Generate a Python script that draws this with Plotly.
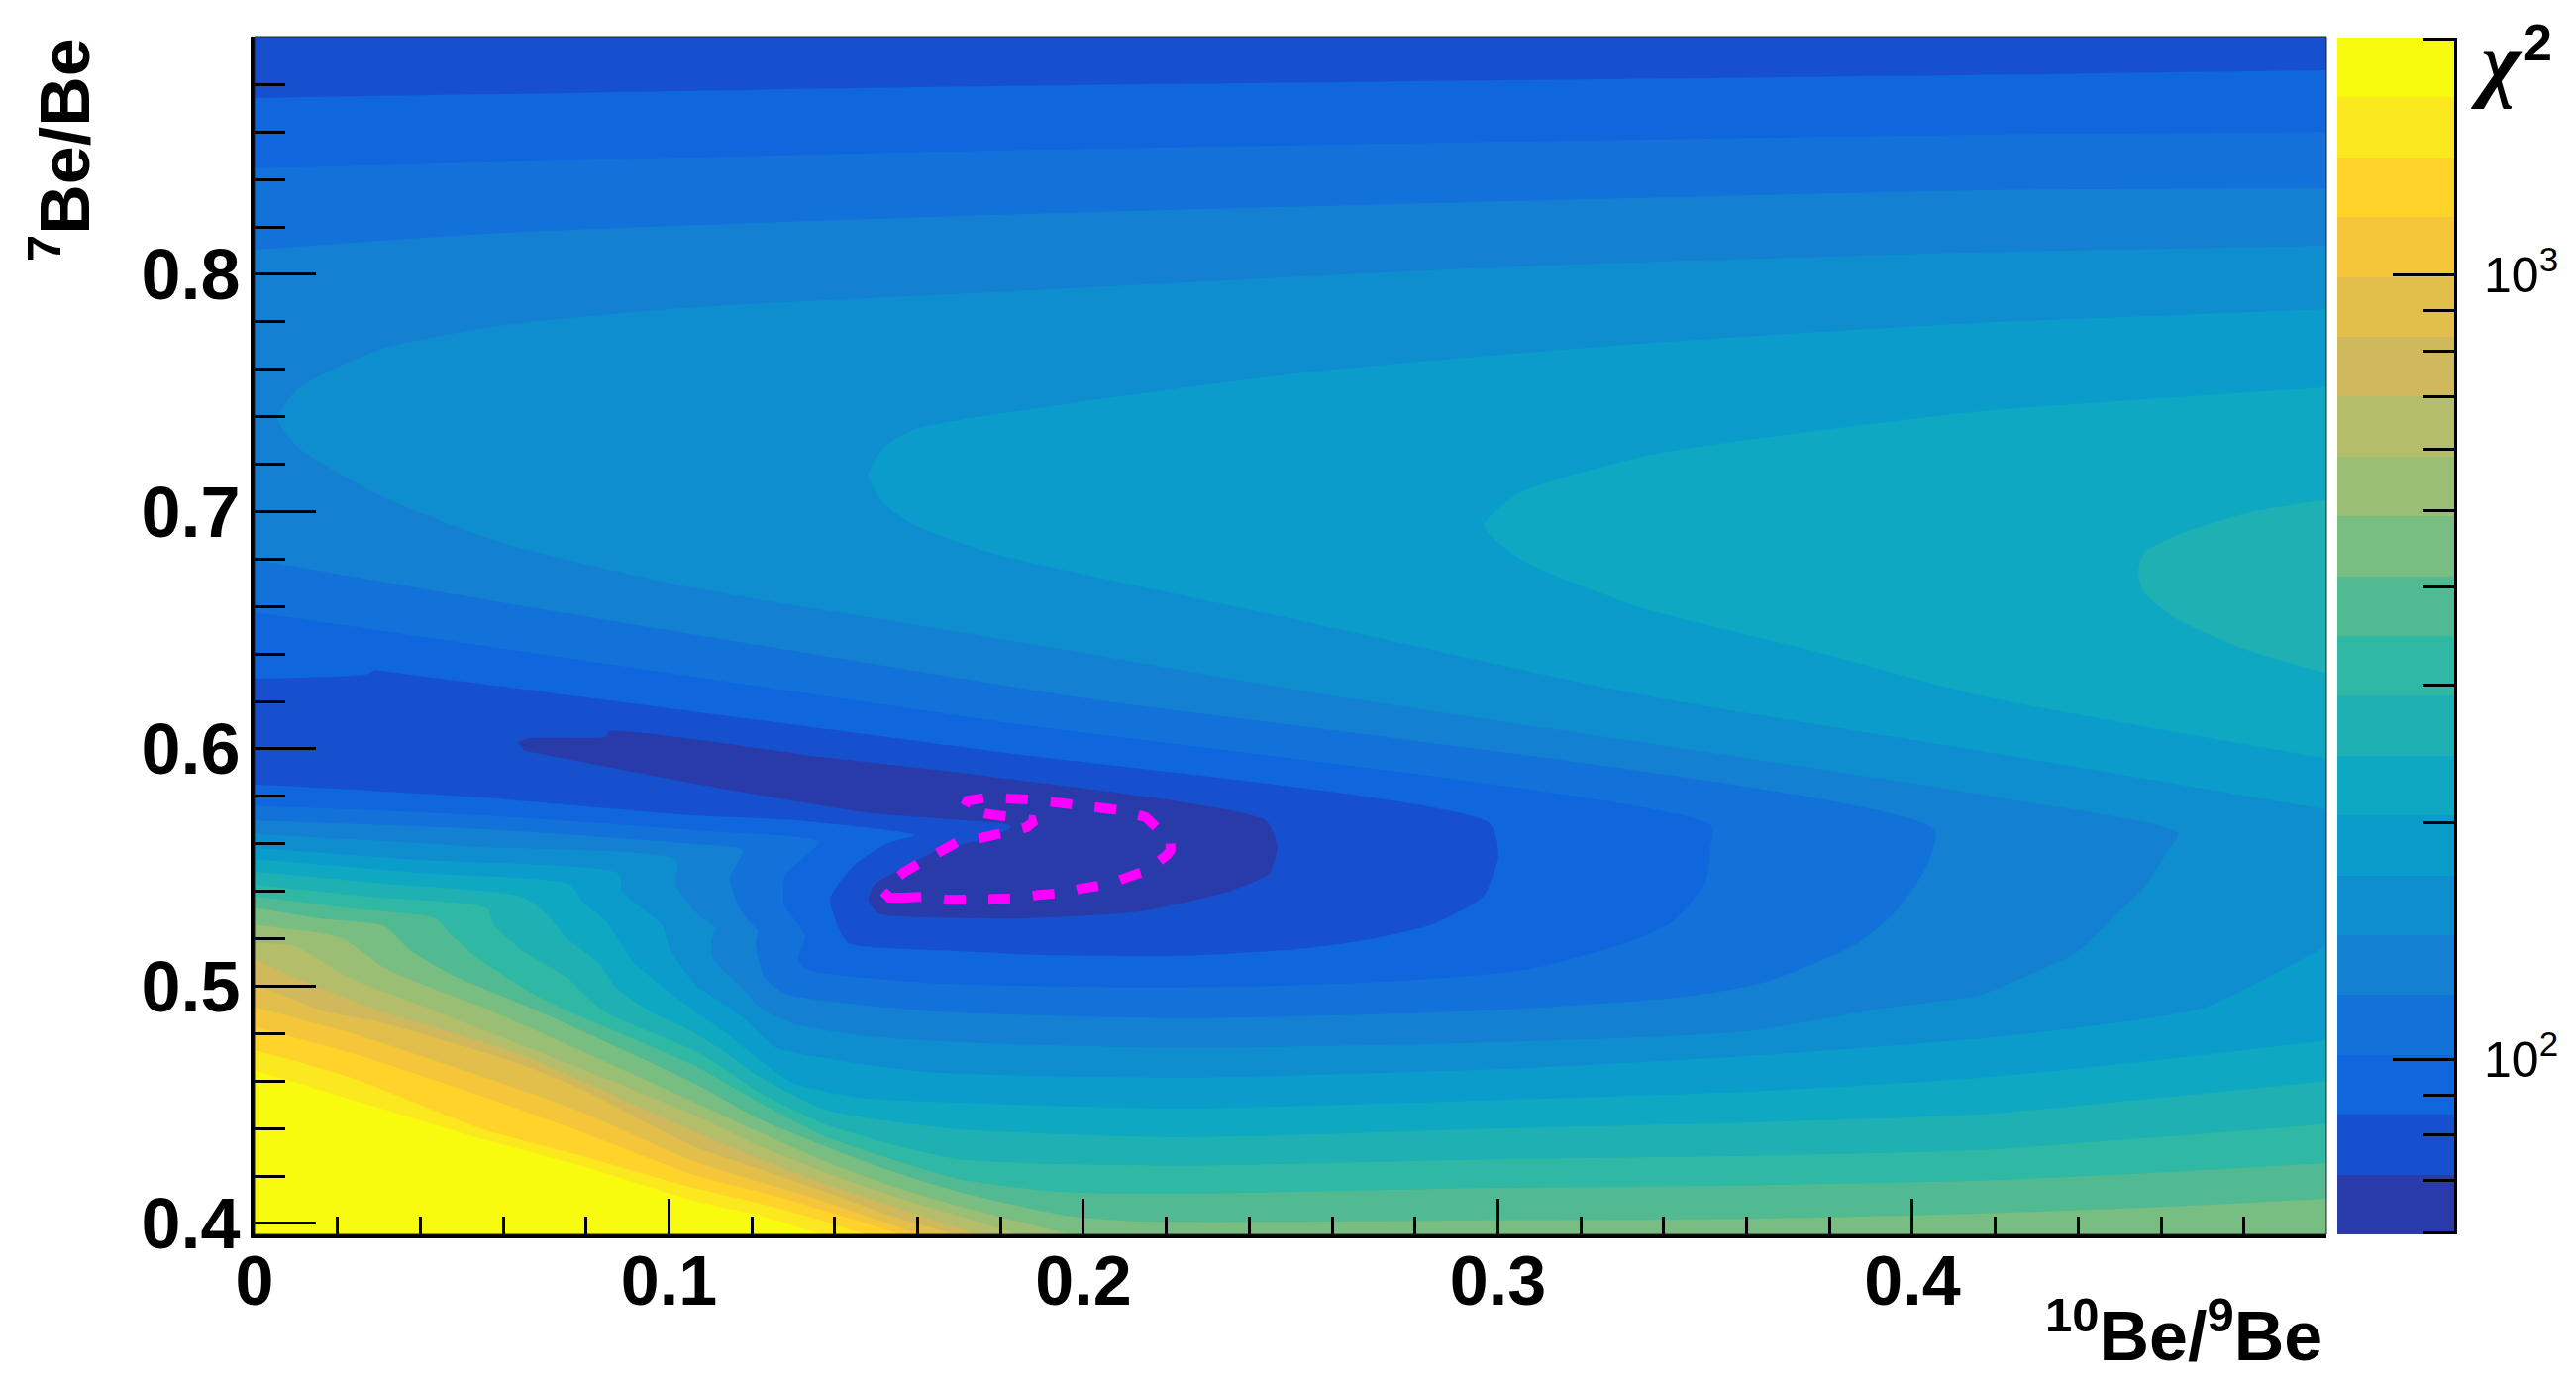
import plotly.graph_objects as go

# ---- chi2 scale -------------------------------------------------------
chi2_levels = [59.8, 71.3, 85.0, 101.3, 120.8, 144.0, 171.6, 204.6, 243.9, 290.7, 346.5,
               413.0, 492.4, 587.0, 699.7, 834.0, 994.3, 1185.0, 1413.0, 1684.0, 2007.0]
band_colors = ["#283BA8", "#1650CF", "#1066DD", "#1272D9", "#1380D2", "#0E8ECE", "#0A9DCC",
               "#0FA8C2", "#1EB0B2", "#2FB8A4", "#52BA92", "#78BD81", "#9ABE74", "#B4BD6A",
               "#D0B95C", "#E2BF4B", "#F5C63A", "#FFD32A", "#FCE81E", "#F9FB0E"]
band_index = list(range(20))

# ---- axis labels ------------------------------------------------------
x_tick_vals = [0, 0.1, 0.2, 0.3, 0.4]
x_tick_text = ["0", "0.1", "0.2", "0.3", "0.4"]
y_tick_vals = [0.4, 0.5, 0.6, 0.7, 0.8]
y_tick_text = ["0.4", "0.5", "0.6", "0.7", "0.8"]
chi2_major = [100, 1000]
chi2_major_text = ["10<sup>2</sup>", "10<sup>3</sup>"]
chi2_minor = [60, 70, 80, 90, 200, 300, 400, 500, 600, 700, 800, 900, 2000]

# ---- regions chi2 < level (10Be/9Be, 7Be/Be) ----
# boundaries run on a little past the frame so they meet it without a bend
below01_x = [.0635,.0658,.0849,.0855,.1367,.1775,.244,.2468,.2447,.2354,.2134,.1855,.1615,.1505,.1481,.1496,.1568,.1656,.1752,.1823,.1823,.1472,.1062,.065]
below01_y = [.6027,.6044,.6052,.6075,.5966,.5883,.5697,.5587,.5474,.5402,.5315,.5286,.529,.5307,.5365,.5428,.5503,.5578,.5616,.5666,.5678,.5733,.5854,.5993]

below02_x = [-.03,0,.027,.0292,.0305,.0727,.1775,.298,.3001,.2965,.284,.2691,.2538,.223,.193,.1697,.1433,.141,.1389,.1448,.1525,.1589,.1297,.1059,.0552,0,-.03]
below02_y = [.6296,.6296,.6315,.6334,.633,.6234,.5992,.5687,.555,.538,.526,.5198,.516,.5127,.513,.5148,.5182,.5244,.537,.5512,.56,.5637,.57,.572,.5795,.5851,.5865]
below02_top_x = [-.03,0,.1775,.4165,.5,.53,.53,-.03]
below02_top_y = [.8735,.8743,.8793,.884,.886,.8865,.93,.93]

below03_x = [-.03,0,.1775,.3513,.3513,.35,.342,.33,.307,.2767,.2385,.208,.1615,.1329,.1312,.1329,.1278,.1281,.1305,.136,.1059,.0552,0,-.03]
below03_y = [.665,.6576,.6121,.5678,.5587,.5437,.527,.5177,.507,.5023,.4998,.4995,.5015,.5073,.5119,.5211,.5344,.547,.5512,.5608,.5658,.572,.5761,.5776]
below03_top_x = [-.03,0,.1775,.4165,.5,.53,.53,-.03]
below03_top_y = [.8432,.8447,.8522,.8589,.860,.8605,.93,.93]

below04_x = [-.03,0,.0605,.1928,.4053,.4031,.3955,.3864,.365,.3453,.2994,.223,.1615,.1281,.1231,.1209,.1214,.1178,.1147,.1178,.1059,.0552,0,-.03]
below04_y = [.688,.6797,.6615,.6234,.566,.5495,.5307,.5177,.502,.4956,.49,.4865,.4898,.4969,.5036,.5177,.5232,.5303,.5453,.5574,.5599,.5662,.5698,.5712]
below04_top_x = [-.03,0,.06,.1775,.4165,.5,.53,.53,-.03]
below04_top_y = [.807,.8104,.8175,.825,.8355,.8363,.8365,.93,.93]

below05_x = [-.03,.53,.53,.5,.4165,.3,.1775,.1063,.0605,.03,.0103,.0056,.0103,.0301,.0605,.1063,.1775,.2569,.4165,.464,.4614,.456,.4485,.4394,.4284,.4165,.391,.36,.2994,.223,.1697,.1458,.1297,.1219,.1183,.1106,.1102,.1113,.107,.1016,.1018,.0552,0,-.03]
below05_y = [.93,.93,.8135,.8121,.8094,.803,.7925,.7862,.7787,.7683,.7516,.739,.7273,.7069,.6864,.6677,.6472,.6234,.5808,.5645,.5566,.542,.529,.514,.505,.4964,.4902,.481,.4764,.474,.4764,.4793,.4843,.491,.4981,.5119,.519,.5244,.5303,.5428,.5532,.5587,.5642,.567]

below06_x = [-.03,.53,.53,.5,.4165,.335,.2557,.1923,.1596,.152,.1481,.152,.1596,.1775,.25,.3329,.4165,.5,.53,.56,.53,.5,.4705,.44,.4165,.36,.2994,.223,.1615,.1376,.1257,.1178,.1082,.107,.1004,.0982,.0887,.0879,.0394,0,-.03]
below06_y = [.93,.93,.788,.7854,.7796,.7709,.7591,.7445,.7349,.7273,.7153,.7031,.694,.6827,.655,.6234,.5992,.5745,.566,.555,.545,.517,.491,.4825,.478,.4706,.465,.4614,.4639,.4697,.4743,.4868,.4981,.4994,.5148,.5261,.5399,.5474,.5532,.5582,.561]

below07_x = [-.03,.53,.53,.5,.4165,.3747,.335,.3053,.2966,.3053,.335,.3747,.4165,.5,.53,.56,.53,.5,.46,.4165,.36,.2994,.223,.1697,.1458,.1297,.1219,.1138,.1059,.0975,.0911,.0848,.0791,.076,.0394,0,-.03]
below07_y = [.93,.93,.7555,.7524,.7423,.7336,.7232,.7079,.694,.6801,.6594,.642,.6225,.596,.587,.53,.4825,.477,.469,.4614,.4555,.452,.4484,.4509,.453,.4593,.4689,.4802,.4898,.501,.5106,.5273,.5357,.5428,.5478,.5535,.557]

below08_x = [-.03,.53,.53,.5,.4805,.464,.4559,.4545,.4559,.464,.4805,.5,.53,.56,.53,.5,.46,.4165,.36,.2994,.223,.1697,.1536,.1376,.1219,.1138,.1059,.0951,.0872,.0832,.0753,.0705,.0645,.0313,0,-.03]
below08_y = [.93,.93,.71,.705,.6994,.6902,.6827,.6743,.666,.6547,.6418,.632,.622,.53,.4655,.46,.453,.446,.4425,.44,.4363,.4397,.443,.448,.4618,.4718,.4806,.4898,.4994,.5094,.5203,.5303,.5378,.5432,.5482,.551]

below09_x = [-.03,.53,.53,.5,.46,.4165,.36,.2994,.223,.1935,.1697,.1536,.1376,.1219,.1138,.1059,.0839,.0753,.0648,.0576,.0562,.0275,0,-.03]
below09_y = [.93,.93,.4475,.442,.4365,.431,.4285,.427,.4243,.425,.4271,.4334,.4418,.4551,.4647,.4731,.4898,.5036,.5148,.5261,.5328,.5378,.5427,.546]

below10_x = [-.03,.53,.53,.5,.46,.4165,.36,.2994,.223,.1935,.1697,.1536,.1376,.1219,.1059,.0753,.0671,.0538,.0466,.0437,.0234,0,-.03]
below10_y = [.93,.93,.4285,.4255,.4215,.418,.416,.415,.4125,.4134,.4188,.4271,.4367,.4509,.4668,.4898,.4969,.5119,.5232,.5286,.5328,.5378,.541]

below11_x = [-.03,.53,.53,.5,.46,.4165,.36,.3,.2134,.1959,.1697,.1536,.1376,.1219,.1059,.0681,.049,.0378,.0313,.0155,0,-.03]
below11_y = [.93,.93,.4135,.4104,.407,.4042,.402,.4013,.4008,.4033,.4134,.4221,.4326,.4438,.4593,.4898,.5036,.5148,.5253,.5286,.5329,.536]

below12_x = [-.03,.53,.53,.253,.1959,.1697,.1536,.1376,.1219,.1059,.0569,.0425,.0313,.021,0,-.03]
below12_y = [.93,.93,.37,.37,.3958,.4075,.4159,.4263,.4384,.4514,.4898,.4994,.5077,.5203,.526,.532]

below13_x = [-.03,.53,.53,.24,.1823,.1697,.1536,.1376,.1219,.1059,.0433,.0227,.0098,0,-.03]
below13_y = [.93,.93,.37,.37,.3966,.4033,.4117,.4217,.4326,.4459,.4898,.5036,.5169,.5183,.521]

below14_x = [-.03,.53,.53,.23,.1759,.1536,.1376,.1219,.1059,.0633,.0299,.0098,0,-.03]
below14_y = [.93,.93,.37,.37,.395,.4075,.4167,.4271,.4388,.4718,.4898,.5036,.5114,.525]

below15_x = [-.03,.53,.53,.225,.1697,.1536,.1376,.1219,.1059,.0791,.0633,.0313,.0162,.0043,0,-.03]
below15_y = [.93,.93,.37,.37,.395,.4033,.4134,.423,.4326,.4564,.4676,.4843,.4898,.4981,.5006,.515]

below16_x = [-.03,.53,.53,.215,.1615,.1376,.1219,.1059,.0791,.0552,.0234,0,-.03]
below16_y = [.93,.93,.37,.37,.395,.4092,.4175,.4263,.4468,.4618,.4802,.4911,.505]

below17_x = [-.03,.53,.53,.21,.1568,.1376,.1219,.1059,.0791,.0552,.0234,0,-.03]
below17_y = [.93,.93,.37,.37,.395,.4054,.4134,.4205,.4384,.4534,.4718,.4828,.496]

below18_x = [-.03,.53,.53,.2,.1481,.1376,.1219,.1059,.0791,.0552,.0234,0,-.03]
below18_y = [.93,.93,.37,.37,.395,.4008,.4084,.415,.4284,.4397,.4614,.4731,.485]

below19_x = [-.03,.53,.53,.19,.1376,.1219,.1059,.0791,.0552,.0234,0,-.03]
below19_y = [.93,.93,.37,.37,.395,.4033,.4096,.4242,.4355,.4522,.4644,.476]

# ---- dashed magenta contour -------------------------------------------
contour_x = [.1564,.1532,.1517,.1524,.1568,.162,.1672,.1696,.1751,.1803,.1863,.1883,.1819,.1767,.1712,.172,.1767,.1823,.1879,.1931,.1986,.2038,.2094,.215,.2186,.221,.221,.2201,.2154,.2106,.2054,.1998,.1947,.1891,.1839,.1783,.1728,.1672,.162,.1564]
contour_y = [.5374,.5374,.5399,.542,.5482,.5531,.558,.5608,.5624,.5642,.567,.5698,.5712,.5726,.5754,.5782,.5795,.5795,.5786,.5775,.5761,.5747,.574,.5712,.5656,.5614,.5573,.5552,.5489,.5454,.5427,.5413,.5392,.5385,.5371,.5368,.5368,.5364,.5378,.5374]

regions = [
    (19, below19_x, below19_y), (18, below18_x, below18_y), (17, below17_x, below17_y),
    (16, below16_x, below16_y), (15, below15_x, below15_y), (14, below14_x, below14_y),
    (13, below13_x, below13_y), (12, below12_x, below12_y), (11, below11_x, below11_y),
    (10, below10_x, below10_y), (9, below09_x, below09_y), (8, below08_x, below08_y),
    (7, below07_x, below07_y), (6, below06_x, below06_y), (5, below05_x, below05_y),
    (4, below04_x, below04_y), (4, below04_top_x, below04_top_y),
    (3, below03_x, below03_y), (3, below03_top_x, below03_top_y),
    (2, below02_x, below02_y), (2, below02_top_x, below02_top_y),
    (1, below01_x, below01_y),
]

W, H = 2601, 1395
BLACK = "#000000"
SANS = "Liberation Sans"

fig = go.Figure()
for level, xs, ys in regions:
    fig.add_trace(go.Scatter(
        x=xs, y=ys, mode="lines", fill="toself", fillcolor=band_colors[level - 1],
        line=dict(width=0, shape="spline", smoothing=0.6), hoverinfo="skip",
        showlegend=False, xaxis="x", yaxis="y"))

fig.add_trace(go.Scatter(
    x=contour_x, y=contour_y, mode="lines",
    line=dict(color="#FF00FF", width=10, dash="22px,23px"),
    hoverinfo="skip", showlegend=False, xaxis="x", yaxis="y"))

fig.add_trace(go.Heatmap(
    x=[0, 1], y=chi2_levels, z=[[i] for i in band_index],
    colorscale=[[i / 19, c] for i, c in enumerate(band_colors)],
    zmin=0, zmax=19, showscale=False, hoverinfo="skip", xaxis="x2", yaxis="y2"))

fig.update_layout(
    width=W, height=H, autosize=False,
    margin=dict(l=0, r=0, t=0, b=0, autoexpand=False),
    paper_bgcolor="#FFFFFF", plot_bgcolor=band_colors[-1],
    showlegend=False,
    xaxis=dict(
        domain=[257 / W, 2349 / W], range=[0, 0.4999], anchor="y",
        tickmode="array", tickvals=x_tick_vals, ticktext=x_tick_text,
        ticks="inside", ticklen=36, tickwidth=3, tickcolor=BLACK,
        tickfont=dict(family=SANS, size=70, color=BLACK, weight=700),
        ticklabelstandoff=-17,
        minor=dict(tick0=0, dtick=0.02, ticks="inside", ticklen=18, tickwidth=3, tickcolor=BLACK),
        showline=True, linecolor=BLACK, linewidth=4, showgrid=False, zeroline=False,
        layer="above traces"),
    yaxis=dict(
        domain=[(H - 1246) / H, (H - 37) / H], range=[0.3954, 0.9002], anchor="x",
        tickmode="array", tickvals=y_tick_vals, ticktext=y_tick_text,
        ticks="inside", ticklen=62, tickwidth=3, tickcolor=BLACK,
        tickfont=dict(family=SANS, size=72, color=BLACK, weight=700),
        ticklabelstandoff=-4,
        minor=dict(tick0=0.4, dtick=0.02, ticks="inside", ticklen=31, tickwidth=3, tickcolor=BLACK),
        showline=True, linecolor=BLACK, linewidth=4, showgrid=False, zeroline=False,
        layer="above traces"),
    xaxis2=dict(
        domain=[2360 / W, 2478 / W], range=[0, 1], anchor="y2",
        showticklabels=False, ticks="", showline=False, showgrid=False, zeroline=False),
    yaxis2=dict(
        domain=[(H - 1246) / H, (H - 38) / H], type="log",
        range=[1.7767, 3.3025], anchor="x2", side="right",
        tickmode="array", tickvals=chi2_major, ticktext=chi2_major_text,
        ticks="inside", ticklen=62, tickwidth=3, tickcolor=BLACK,
        tickfont=dict(family=SANS, size=50, color=BLACK),
        ticklabelstandoff=17,
        minor=dict(tickmode="array", tickvals=chi2_minor, ticks="inside", ticklen=31,
                   tickwidth=3, tickcolor=BLACK),
        showline=True, linecolor=BLACK, linewidth=3, showgrid=False, zeroline=False,
        layer="above traces"),
    shapes=[dict(type="rect", xref="x domain", yref="y domain", x0=0, x1=1, y0=0, y1=1,
                 line=dict(color="#222222", width=1), layer="above")],
    annotations=[
        dict(text="<b><sup>10</sup>Be/<sup>9</sup>Be</b>",
             xref="paper", yref="paper", x=2347 / W, y=(H - 1390) / H,
             xanchor="right", yanchor="bottom", showarrow=False,
             font=dict(family=SANS, size=70, color=BLACK)),
        dict(text="<b><sup>7</sup>Be/Be</b>",
             xref="paper", yref="paper", x=61 / W, y=(H - 36) / H,
             xanchor="center", yanchor="top", textangle=-90, showarrow=False,
             font=dict(family=SANS, size=70, color=BLACK)),
        dict(text="<i>\u03c7</i>",
             xref="paper", yref="paper", x=2493 / W, y=(H - 12) / H,
             xanchor="left", yanchor="top", showarrow=False,
             font=dict(family="Liberation Serif", size=86, color=BLACK, weight=700)),
        dict(text="<b>2</b>",
             xref="paper", yref="paper", x=2546 / W, y=(H - 12) / H,
             xanchor="left", yanchor="top", showarrow=False,
             font=dict(family=SANS, size=52, color=BLACK)),
    ],
)

fig.write_html("out.html", config=dict(displayModeBar=False),
               post_script="document.body.style.margin='0';")
